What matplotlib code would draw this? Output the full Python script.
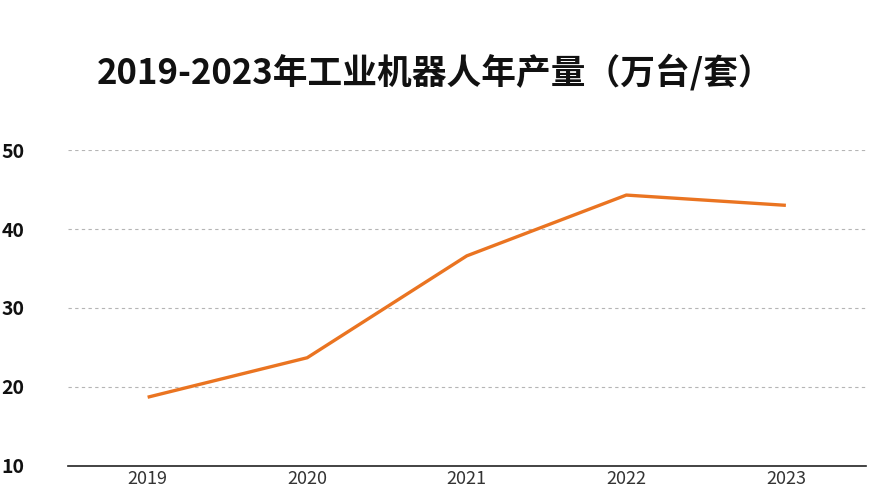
import matplotlib

matplotlib.use("Agg")
import matplotlib.pyplot as plt

plt.rcParams['font.family'] = ['Noto Sans CJK SC', 'DejaVu Sans']

years = ["2019", "2020", "2021", "2022", "2023"]
output = [18.7, 23.7, 36.6, 44.3, 43.0]
yticks = [10, 20, 30, 40, 50]
title = "2019-2023年工业机器人年产量（万台/套）"


def main() -> None:
    fig = plt.figure(figsize=(8.7, 4.92), dpi=100)
    ax = fig.add_axes([0.078, 0.053, 0.917, 0.642])

    x = list(range(len(years)))
    ax.plot(x, output, color="#ea7421", lw=2.4, solid_capstyle="butt")

    ax.set_xlim(-0.5, len(years) - 0.5)
    ax.set_ylim(10, 50)
    ax.set_xticks(x)
    ax.set_xticklabels(years, fontsize=13, color="#333333")
    ax.set_yticks(yticks)
    ax.set_yticklabels([str(v) for v in yticks], fontsize=14, fontweight="heavy",
                       color="#111111", ha="left")
    ax.tick_params(axis="y", length=0, pad=48)
    ax.tick_params(axis="x", length=0, pad=3)

    for v in yticks[1:]:
        ax.axhline(v, color="#b5b5b5", lw=0.8, ls=(0, (3, 3)), zorder=0)

    for side in ["top", "right", "left"]:
        ax.spines[side].set_visible(False)
    ax.spines["bottom"].set_color("#222222")
    ax.spines["bottom"].set_linewidth(1.2)

    fig.text(0.5, 0.853, title, ha="center", va="center", fontsize=25,
             fontweight="bold", color="#111111")

    fig.savefig("out.png", dpi=100)


if __name__ == "__main__":
    main()
